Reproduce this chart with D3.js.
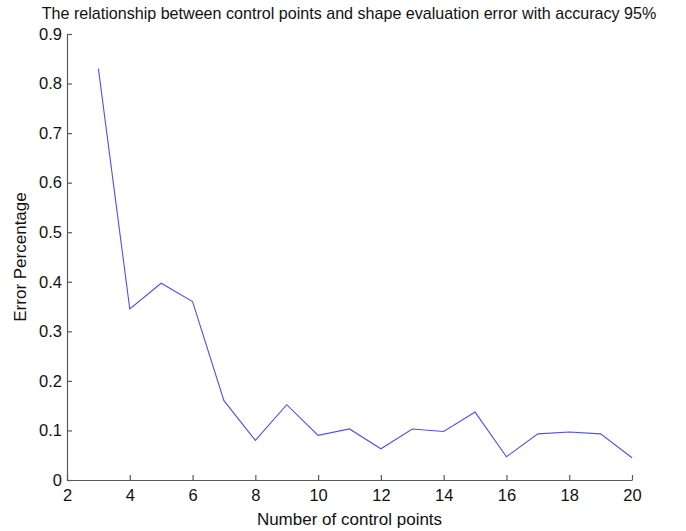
<!DOCTYPE html>
<html>
<head>
<meta charset="utf-8">
<script src="https://cdn.jsdelivr.net/npm/d3@7"></script>
<style>
  body { margin: 0; background: #fff; }
  svg text { font-family: "Liberation Sans", Arial, sans-serif; fill: #111; }
</style>
</head>
<body>
<div id="chart"></div>
<script>
// Data
const controlPoints = [3, 4, 5, 6, 7, 8, 9, 10, 11, 12, 13, 14, 15, 16, 17, 18, 19, 20];
const errorPct = [0.83, 0.345, 0.397, 0.36, 0.16, 0.08, 0.152, 0.09, 0.103, 0.063,
                  0.103, 0.098, 0.137, 0.047, 0.093, 0.097, 0.093, 0.045];
const xTicks = [2, 4, 6, 8, 10, 12, 14, 16, 18, 20];
const yTicks = [0, 0.1, 0.2, 0.3, 0.4, 0.5, 0.6, 0.7, 0.8, 0.9];

const W = 686, H = 531;
const margin = {left: 67, right: 54, top: 34, bottom: 51};

const svg = d3.select("#chart").append("svg")
    .attr("width", W)
    .attr("height", H);

const x = d3.scaleLinear().domain([2, 20]).range([margin.left, W - margin.right]);
const y = d3.scaleLinear().domain([0, 0.9]).range([H - margin.bottom, margin.top]);

// x axis, MATLAB-style inward ticks
const xAxis = svg.append("g")
    .attr("transform", `translate(0,${H - margin.bottom})`)
    .call(d3.axisBottom(x).tickValues(xTicks).tickSizeInner(-5).tickSizeOuter(0)
        .tickPadding(9).tickFormat(d3.format("d")));

const yAxis = svg.append("g")
    .attr("transform", `translate(${margin.left},0)`)
    .call(d3.axisLeft(y).tickValues(yTicks).tickSizeInner(-5).tickSizeOuter(0)
        .tickPadding(5).tickFormat(d => d === 0 ? "0" : d3.format(".1f")(d)));

[xAxis, yAxis].forEach(g => {
    g.selectAll("path, line").attr("stroke", "#5a5a5a").attr("stroke-width", 1.2);
    g.selectAll("text").style("font-size", "16.5px")
        .style("font-family", "Liberation Sans, Arial, sans-serif").attr("fill", "#111");
});

// the series line
svg.append("path")
    .datum(controlPoints.map((c, i) => [c, errorPct[i]]))
    .attr("fill", "none")
    .attr("stroke", "#4f4ff5")
    .attr("stroke-width", 1.1)
    .attr("d", d3.line().x(d => x(d[0])).y(d => y(d[1])));

// title and axis labels
svg.append("text")
    .attr("x", 349).attr("y", 19)
    .attr("text-anchor", "middle")
    .style("font-size", "16.1px")
    .text("The relationship between control points and shape evaluation error with accuracy 95%");

svg.append("text")
    .attr("x", x(11)).attr("y", 525)
    .attr("text-anchor", "middle")
    .style("font-size", "17px")
    .text("Number of control points");

svg.append("text")
    .attr("transform", `translate(26,${y(0.45)}) rotate(-90)`)
    .attr("text-anchor", "middle")
    .style("font-size", "17px")
    .text("Error Percentage");
</script>
</body>
</html>
